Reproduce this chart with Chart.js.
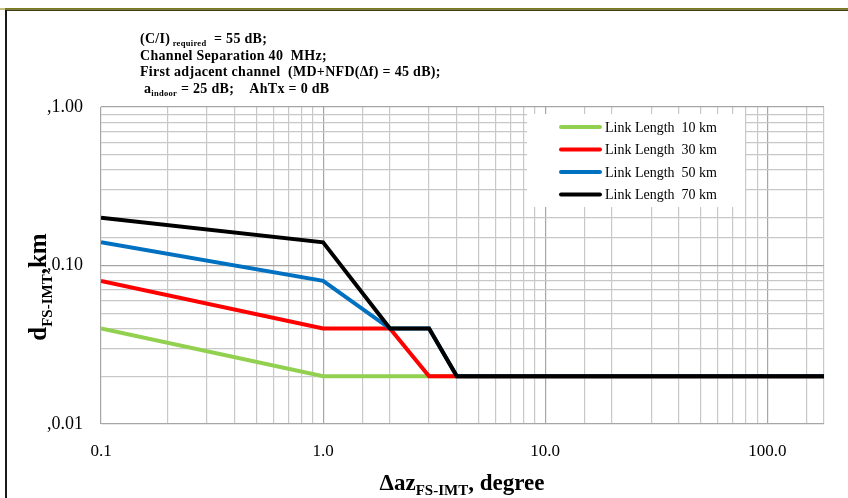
<!DOCTYPE html>
<html>
<head>
<meta charset="utf-8">
<title>dFS-IMT vs delta az</title>
<script src="https://cdn.jsdelivr.net/npm/chart.js@4.4.0/dist/chart.umd.min.js"></script>
<style>
  body { margin: 0; background: #fff; }
  #wrap { width: 848px; height: 498px; }
</style>
</head>
<body>
<div id="wrap"><canvas id="myChart" width="848" height="498"></canvas></div>
<script>
// values (log-log), x = delta az (degree), y = distance (km)
const seriesNames = ["Link Length 10 km", "Link Length 30 km", "Link Length 50 km", "Link Length 70 km"];
const seriesColors = ["#92d050", "#ff0000", "#0070c0", "#000000"];

const x10km = [0.1, 1.0, 3.0, 180];
const y10km = [0.04, 0.02, 0.02, 0.02];
const x30km = [0.1, 1.0, 2.0, 3.0, 180];
const y30km = [0.08, 0.04, 0.04, 0.02, 0.02];
const x50km = [0.1, 1.0, 2.0, 3.0, 4.0, 180];
const y50km = [0.14, 0.08, 0.04, 0.04, 0.02, 0.02];
const x70km = [0.1, 1.0, 2.0, 3.0, 4.0, 180];
const y70km = [0.2, 0.14, 0.04, 0.04, 0.02, 0.02];

const xMin = 0.1, xMax = 180;
const yMin = 0.01, yMax = 1.0;

const notes = [
  [["(C/I)", 0], [" required", 1], ["  = 55 dB;", 0]],
  [["Channel Separation 40  MHz;", 0]],
  [["First adjacent channel  (MD+NFD(", 0], ["\u0394", 0], ["f) = 45 dB);", 0]],
  [["a", 0], ["indoor", 1], [" = 25 dB;    AhTx = 0 dB", 0]]
];

function pts(xs, ys) {
  return xs.map((x, i) => ({ x: x, y: ys[i] }));
}

function isDecade(v) {
  let l = Math.log10(v);
  return Math.abs(l - Math.round(l)) < 1e-9;
}

const SERIF = "'Liberation Serif', 'Times New Roman', serif";

// draw pieces of text, some of them as subscripts
function drawRuns(ctx, x, y, runs, big, small, drop) {
  runs.forEach(r => {
    let sub = r[1] === 1;
    ctx.font = "bold " + (sub ? small : big) + "px " + SERIF;
    ctx.fillText(r[0], x, sub ? y + drop : y);
    x += ctx.measureText(r[0]).width;
  });
  return x;
}
function runsWidth(ctx, runs, big, small) {
  let w = 0;
  runs.forEach(r => {
    ctx.font = "bold " + (r[1] === 1 ? small : big) + "px " + SERIF;
    w += ctx.measureText(r[0]).width;
  });
  return w;
}

const decorPlugin = {
  id: "decor",
  beforeDraw(chart) {
    let ctx = chart.ctx;
    ctx.save();
    ctx.fillStyle = "#fff";
    ctx.fillRect(0, 0, chart.width, chart.height);
    // frame
    ctx.fillStyle = "#c8c080";
    ctx.fillRect(0, 8, 6, 2);
    ctx.fillStyle = "#7a7a18";
    ctx.fillRect(5, 8, chart.width - 5, 1.5);
    ctx.fillStyle = "#3c3c10";
    ctx.fillRect(5, 9.5, chart.width - 5, 1.5);
    ctx.fillStyle = "#1a1a1a";
    ctx.fillRect(5, 10, 2, chart.height - 10);

    // notes
    ctx.fillStyle = "#000";
    ctx.textBaseline = "alphabetic";
    ctx.textAlign = "left";
    ctx.letterSpacing = "0.3px";
    let ny = [43, 60, 76, 93];
    notes.forEach((line, i) => {
      let x0 = i === 3 ? 144 : 140;
      drawRuns(ctx, x0, ny[i], line, 14, 8.5, 3);
    });
    ctx.letterSpacing = "0px";
    ctx.restore();
  },
  afterDatasetsDraw(chart) {
    let ctx = chart.ctx;
    ctx.save();
    // legend box
    ctx.fillStyle = "#fff";
    ctx.fillRect(527, 114, 218, 93);
    let ly = [127, 149.5, 172, 194.5];
    seriesNames.forEach((name, i) => {
      ctx.strokeStyle = seriesColors[i];
      ctx.lineWidth = 4;
      ctx.lineCap = "round";
      ctx.beginPath();
      ctx.moveTo(561, ly[i]);
      ctx.lineTo(600, ly[i]);
      ctx.stroke();
      ctx.fillStyle = "#000";
      ctx.font = "14px " + SERIF;
      ctx.textBaseline = "middle";
      ctx.fillText(name.replace("Length ", "Length\u00a0 "), 605, ly[i] + 1);
    });

    // x axis title
    ctx.fillStyle = "#000";
    ctx.textBaseline = "alphabetic";
    let xt = [["\u0394az", 0], ["FS-IMT", 1], [", degree", 0]];
    let w = runsWidth(ctx, xt, 23, 15);
    drawRuns(ctx, 462 - w / 2, 490, xt, 23, 15, 5);

    // y axis title, rotated
    ctx.translate(46, 287);
    ctx.rotate(-Math.PI / 2);
    let yt = [["d", 0], ["FS-IMT", 1], [",", 0], ["km", 0]];
    let w2 = runsWidth(ctx, yt, 25, 15);
    drawRuns(ctx, -w2 / 2, 0, yt, 25, 15, 6);
    ctx.restore();
  }
};

function gridColor(c) {
  if (c.tick && isDecade(c.tick.value)) return "#a6a6a6";
  return "#c8c8c8";
}

let ctx = document.getElementById("myChart").getContext("2d");
let myLineChart = new Chart(ctx, {
  type: "line",
  data: {
    datasets: [
      { label: seriesNames[0], data: pts(x10km, y10km), borderColor: seriesColors[0], order: 4 },
      { label: seriesNames[1], data: pts(x30km, y30km), borderColor: seriesColors[1], order: 3 },
      { label: seriesNames[2], data: pts(x50km, y50km), borderColor: seriesColors[2], order: 2 },
      { label: seriesNames[3], data: pts(x70km, y70km), borderColor: seriesColors[3], order: 1 }
    ]
  },
  options: {
    responsive: false,
    animation: false,
    devicePixelRatio: 1,
    layout: { padding: { top: 107, right: 24, left: 0, bottom: 0 } },
    elements: {
      line: { borderWidth: 4, tension: 0, borderJoinStyle: "miter", borderCapStyle: "butt" },
      point: { radius: 0, hoverRadius: 0 }
    },
    plugins: {
      legend: { display: false },
      tooltip: { enabled: false },
      title: { display: false }
    },
    scales: {
      x: {
        type: "logarithmic",
        min: xMin,
        max: xMax,
        afterFit: s => { s.height = 74; },
        border: { display: false },
        grid: { color: gridColor, lineWidth: 1.2, drawTicks: false },
        ticks: {
          autoSkip: false,
          maxRotation: 0,
          padding: 17,
          color: "#000",
          font: { family: SERIF, size: 17 },
          callback: v => isDecade(v) ? Number(v).toFixed(1) : ""
        }
      },
      y: {
        type: "logarithmic",
        min: yMin,
        max: yMax,
        afterFit: s => { s.width = 101; },
        border: { display: false },
        grid: { color: gridColor, lineWidth: 1.2, drawTicks: false },
        ticks: {
          autoSkip: false,
          padding: 18,
          color: "#000",
          font: { family: SERIF, size: 18 },
          callback: v => isDecade(v) ? "," + Number(v).toFixed(2) : ""
        }
      }
    }
  },
  plugins: [decorPlugin]
});
</script>
</body>
</html>
